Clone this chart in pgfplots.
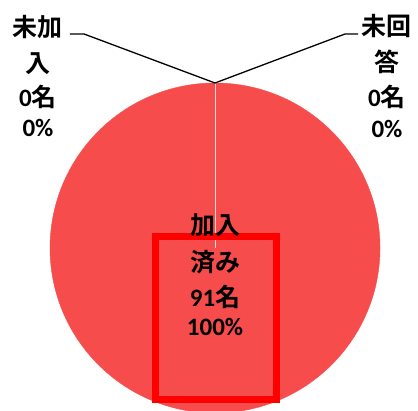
\documentclass[border=0pt]{standalone}
\usepackage{pgfplots}
\pgfplotsset{compat=1.18}
\usepackage{fontspec}
\setmainfont{Carlito}[BoldFont={Carlito Bold}]
\newfontfamily\cjk{Noto Sans CJK JP}[BoldFont={Noto Sans CJK JP Bold}]
\definecolor{piered}{RGB}{246,76,76}
\definecolor{slicegap}{RGB}{255,215,215}

% one label line, set on its baseline
\newcommand{\lbl}[3]{\node[anchor=base, inner sep=0pt,
  font=\bfseries\fontsize{25bp}{30bp}\selectfont] at (axis cs:#1,#2) {#3};}

\begin{document}
\begin{tikzpicture}
\begin{axis}[
  scale only axis, width=418bp, height=411bp,
  xmin=-1.303, xmax=1.230, ymin=-0.988, ymax=1.503,
  axis lines=none,
  clip marker paths=true,
]
% 加入済み 91 (100%), 未加入 0, 未回答 0 -> one full slice of radius 1
\addplot[piered, only marks, mark=*, mark size=165bp,
  mark options={draw=none, fill=piered}] coordinates {(0,0)};
% edge of the two empty slices
\addplot[slicegap, line width=0.8pt] coordinates {(0,0) (0,1)};
% leader lines
\addplot[black, line width=1.3pt] coordinates {(-0.879,1.297) (-0.794,1.297) (0,1)};
\addplot[black, line width=1.3pt] coordinates {(0.867,1.297) (0.788,1.297) (0,1)};
% highlight box
\addplot[red, line width=7bp, line join=miter] coordinates {
  (-0.361,0.070) (0.373,0.070) (0.373,-0.918) (-0.361,-0.918)} -- cycle;

\lbl{-1.073}{1.282}{\cjk 未加}
\lbl{-1.073}{1.064}{\cjk 入}
\lbl{-1.073}{0.858}{0{\cjk 名}}
\lbl{-1.073}{0.673}{0\%}

\lbl{1.042}{1.288}{\cjk 未回}
\lbl{1.042}{1.070}{\cjk 答}
\lbl{1.042}{0.858}{0{\cjk 名}}
\lbl{1.042}{0.667}{0\%}

\lbl{0}{0.082}{\cjk 加入}
\lbl{0}{-0.142}{\cjk 済み}
\lbl{0}{-0.355}{91{\cjk 名}}
\lbl{0}{-0.533}{100\%}
\end{axis}
\pgfresetboundingbox
\useasboundingbox (current axis.south west) rectangle (current axis.north east);
\end{tikzpicture}
\end{document}
